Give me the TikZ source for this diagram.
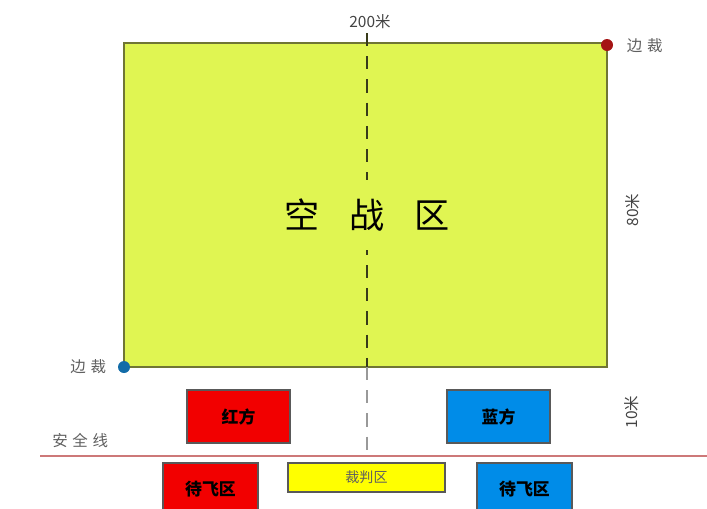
\documentclass[tikz,border=0pt]{standalone}
\usepackage{fontspec}
\usepackage{xcolor}
\usepackage{tikz}
\newfontfamily\cjk{Noto Sans CJK SC}
\definecolor{zklime}{RGB}{224,245,82}
\definecolor{zkolive}{RGB}{112,118,52}
\definecolor{zkred}{RGB}{242,0,0}
\definecolor{zkblue}{RGB}{0,140,232}
\definecolor{zkyellow}{RGB}{255,255,0}
\definecolor{zkgray}{RGB}{95,95,95}
\definecolor{zksafe}{RGB}{205,120,120}
\definecolor{zkdotred}{RGB}{165,20,20}
\definecolor{zkdotblue}{RGB}{18,108,168}

\begin{document}
\begin{tikzpicture}[x=0.025cm, y=-0.025cm, font=\cjk,
    teambox/.style={draw=black!65, line width=0.8pt, minimum width=2.575cm,
        minimum height=1.325cm, inner sep=0pt, font=\cjk\bfseries\large},
    waitbox/.style={teambox, minimum width=2.375cm, minimum height=1.3cm},
    sidelabel/.style={text=zkgray, font=\cjk\fontsize{11}{13}\selectfont},
    dimlabel/.style={text=zkgray!70!black, font=\cjk\fontsize{11}{13}\selectfont},
    refdot/.style={circle, inner sep=0pt, minimum size=0.3cm},
    midline/.style={line width=1.1pt, dash pattern=on 0.33cm off 0.25cm}]
        \useasboundingbox (0,0) rectangle (707,508);
        \clip (0,0) rectangle (707,508);

        % air combat arena
        \node[draw=zkolive, fill=zklime, line width=1.3pt, inner sep=0pt,
              minimum width=12.075cm, minimum height=8.1cm] (arena) at (365.5,205) {};

        % centre line
        \coordinate (midtop) at (367,33);
        \coordinate (midmid) at (367,367);
        \coordinate (midbot) at (367,456);
        \draw[midline, zkolive!50!black] (midtop) -- (midmid);
        \draw[midline, gray!80] (midmid) -- (midbot);
        \node[fill=zklime, inner xsep=2pt, inner ysep=13pt,
              font=\cjk\fontsize{25}{30}\selectfont] (arenatext) at (367,215)
            {空\hspace{0.85em}战\hspace{0.85em}区};

        % safety line
        \coordinate (safeleft) at (40,456);
        \coordinate (saferight) at (707,456);
        \draw[zksafe, line width=0.9pt] (safeleft) -- (saferight);

        % dimensions
        \node[dimlabel] (width) at (370,22) {200米};
        \node[dimlabel, rotate=90] (height) at (633,210) {80米};
        \node[dimlabel, rotate=90] (gap) at (632,412) {10米};

        % line judges
        \node[refdot, fill=zkdotred] (judgeA) at (607,45) {};
        \node[sidelabel, anchor=west] (judgeAtext) at (622,46) {边\hspace{0.3em}裁};
        \node[refdot, fill=zkdotblue] (judgeB) at (124,367) {};
        \node[sidelabel, anchor=east] (judgeBtext) at (111,367) {边\hspace{0.3em}裁};
        \node[sidelabel, anchor=east] (safetext) at (113,441) {安\hspace{0.3em}全\hspace{0.3em}线};

        % teams
        \node[teambox, fill=zkred] (red) at (238.5,416.5) {红方};
        \node[teambox, fill=zkblue] (blue) at (498.5,416.5) {蓝方};

        % waiting and referee areas
        \node[waitbox, fill=zkred] (redwait) at (210.5,489) {待飞区};
        \node[waitbox, fill=zkblue] (bluewait) at (524.5,489) {待飞区};
        \node[draw=black!65, line width=0.8pt, fill=zkyellow, inner sep=0pt,
              minimum width=3.925cm, minimum height=0.725cm,
              text=zkgray, font=\cjk\normalsize] (referee) at (366.5,477.5) {裁判区};
    \end{tikzpicture}
\end{document}
